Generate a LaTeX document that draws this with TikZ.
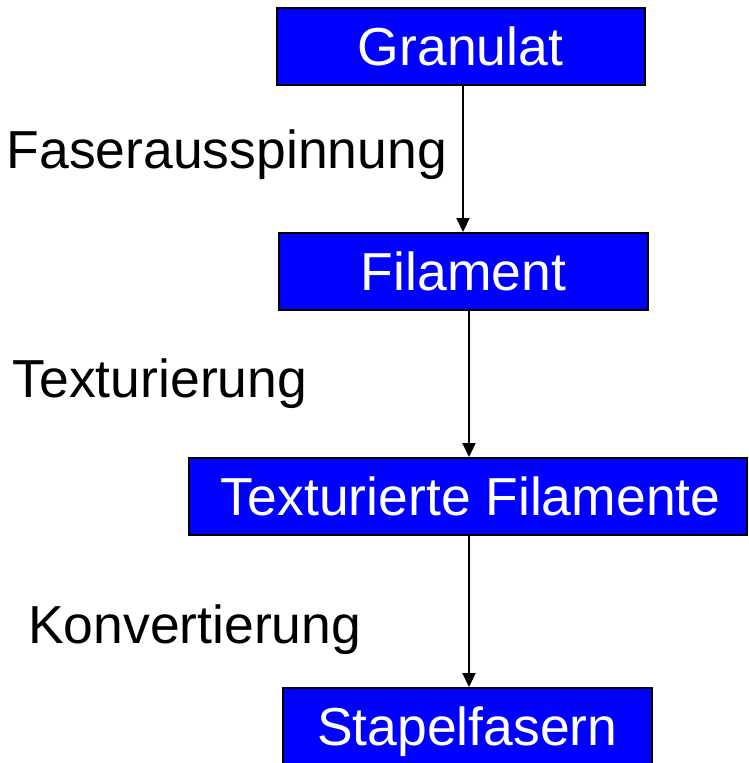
\documentclass[tikz,border=0pt]{standalone}
\usepackage{fontspec}
\setmainfont{Liberation Sans}
\usetikzlibrary{arrows.meta}
\tikzset{
  box/.style={draw=black, line width=2pt, fill=blue, text=white, inner sep=0pt,
    minimum height=77pt, text height=38pt, text depth=0pt,
    font=\fontsize{53.5}{60}\selectfont},
  lbl/.style={anchor=base west, inner sep=0pt, font=\fontsize{53.5}{60}\selectfont},
  arr/.style={line width=2.2pt, -{Triangle[width=13pt,length=14pt]}}
}
\begin{document}
\begin{tikzpicture}[x=1pt,y=-1pt]
\useasboundingbox (0,0) rectangle (749,763);
\node[box, minimum width=368pt] (G) at (460.5,46.5) {Granulat};
\node[box, minimum width=369pt] (F) at (463.5,271.5) {Filament};
\node[box, minimum width=558.5pt] (T) at (467.75,496.5) {\hspace*{6pt}Texturierte Filamente};
\node[box, minimum width=368.5pt] (S) at (467.25,726.5) {Stapelfasern};
\coordinate (a1) at (463,0);
\coordinate (a2) at (469,0);
\draw[arr] (G.south -| a1) -- (F.north -| a1);
\draw[arr] (F.south -| a2) -- (T.north -| a2);
\draw[arr] (T.south -| a2) -- (S.north -| a2);
\node[lbl] (l1) at (6.5,168) {Faserausspinnung};
\node[lbl] (l2) at (12.5,397) {Texturierung};
\node[lbl] (l3) at (28,643) {Konvertierung};
\end{tikzpicture}
\end{document}
